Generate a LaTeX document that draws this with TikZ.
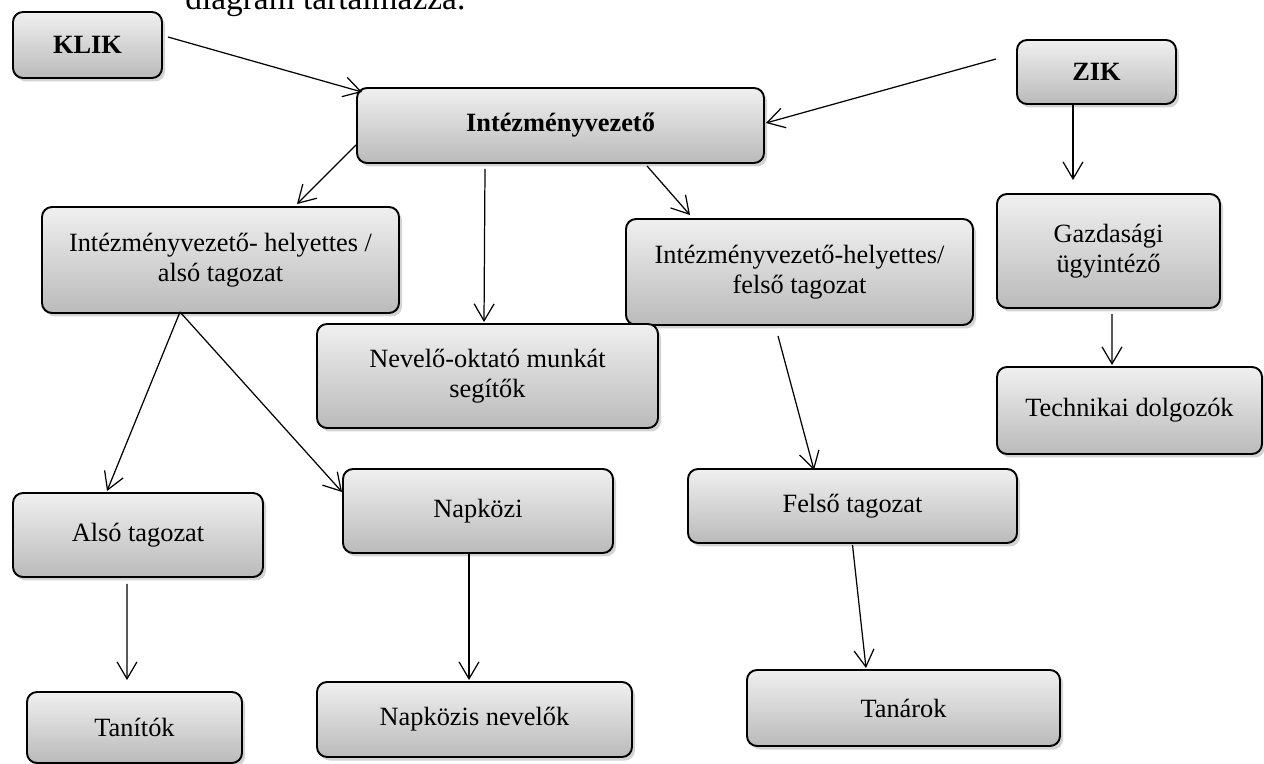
\documentclass[tikz,border=0pt]{standalone}
\usepackage{fontspec}
\setmainfont{Liberation Serif}
\usetikzlibrary{arrows.meta,shadows}

\begin{document}
\begin{tikzpicture}[
	orgbox/.style={draw=black, line width=1.1pt, rounded corners=0.2cm,
		top color=black!6, bottom color=black!27, align=center, inner sep=0pt,
		font=\fontsize{15}{17}\selectfont,
		drop shadow={shadow xshift=0.06cm, shadow yshift=-0.07cm, opacity=0.35}},
	arr/.style={-{Straight Barb[length=3.4mm,width=4mm]}, line width=0.7pt}
	]
	\useasboundingbox (0,0) rectangle (25.28,-15.28);
	\clip (0,0) rectangle (25.28,-15.28);
	
	%cut off text on top
	\node[anchor=base west, inner sep=0pt, font=\fontsize{19}{21}\selectfont] (cim) at (3.70,-0.20) {diagram tartalmazza.};
	
	%boxes
	\node[orgbox, minimum width=2.98cm, minimum height=1.32cm] (klik)  at (1.75,-0.90)  {\textbf{KLIK}};
	\node[orgbox, minimum width=8.14cm, minimum height=1.50cm] (iv)    at (11.21,-2.51) {\textbf{Intézményvezető}};
	\node[orgbox, minimum width=3.18cm, minimum height=1.28cm] (zik)   at (21.93,-1.44) {\textbf{ZIK}};
	\node[orgbox, minimum width=7.14cm, minimum height=2.12cm] (ivha)  at (4.41,-5.20)  {Intézményvezető- helyettes /\\alsó tagozat};
	\node[orgbox, minimum width=6.94cm, minimum height=2.12cm] (ivhf)  at (15.99,-5.44) {Intézményvezető-helyettes/\\felső tagozat};
	\node[orgbox, minimum width=4.46cm, minimum height=2.28cm] (gazd)  at (22.17,-5.02) {Gazdasági\\ügyintéző};
	\node[orgbox, minimum width=6.82cm, minimum height=2.08cm] (nos)   at (9.75,-7.52)  {Nevelő-oktató munkát\\segítők};
	\node[orgbox, minimum width=5.30cm, minimum height=1.74cm] (tech)  at (22.59,-8.21) {Technikai dolgozók};
	\node[orgbox, minimum width=5.00cm, minimum height=1.68cm] (also)  at (2.76,-10.70) {Alsó tagozat};
	\node[orgbox, minimum width=5.40cm, minimum height=1.68cm] (napk)  at (9.56,-10.22) {Napközi};
	\node[orgbox, minimum width=6.58cm, minimum height=1.48cm] (felso) at (17.05,-10.12) {Felső tagozat};
	\node[orgbox, minimum width=4.30cm, minimum height=1.42cm] (tan)   at (2.69,-14.55) {Tanítók};
	\node[orgbox, minimum width=6.30cm, minimum height=1.50cm] (nn)    at (9.49,-14.39) {Napközis nevelők};
	\node[orgbox, minimum width=6.26cm, minimum height=1.52cm] (tanar) at (18.07,-14.16) {Tanárok};
	
	%arrows
	\draw[arr] ([shift={(0.10,0.16)}]klik.east) -- ([shift={(0.12,-0.10)}]iv.north west);
	\draw[arr] ([shift={(-0.40,0.26)}]zik.west) -- ([shift={(0.02,0.05)}]iv.east);
	\draw[arr] ([xshift=-0.47cm,yshift=0.02cm]zik.south) -- ([xshift=-0.71cm,yshift=0.26cm]gazd.north);
	\draw[arr] ([yshift=-0.39cm]iv.west) -- ([shift={(1.53,0.04)}]ivha.north);
	\draw[arr] ([shift={(-1.51,-0.10)}]iv.south) -- ([shift={(-0.07,0.02)}]nos.north);
	\draw[arr] ([shift={(1.73,-0.04)}]iv.south) -- ([shift={(-2.19,0.06)}]ivhf.north);
	\draw[arr] ([shift={(0.07,-0.10)}]gazd.south) -- ([shift={(-0.35,0.02)}]tech.north);
	%
	\draw[arr] ([shift={(-0.81,0.04)}]ivha.south) -- ([shift={(-0.62,0.02)}]also.north);
	\draw[arr] ([shift={(-0.81,0.04)}]ivha.south) -- ([yshift=0.38cm]napk.west);
	\draw[arr] ([shift={(-0.43,-0.20)}]ivhf.south) -- ([shift={(-0.77,-0.04)}]felso.north);
	%
	\draw[arr] ([shift={(-0.22,-0.12)}]also.south) -- ([shift={(-0.15,0.22)}]tan.north);
	\draw[arr] ([xshift=-0.18cm]napk.south) -- ([shift={(-0.11,0.02)}]nn.north);
	\draw[arr] ([yshift=-0.02cm]felso.south) -- ([shift={(-0.75,0.02)}]tanar.north);
\end{tikzpicture}
\end{document}
